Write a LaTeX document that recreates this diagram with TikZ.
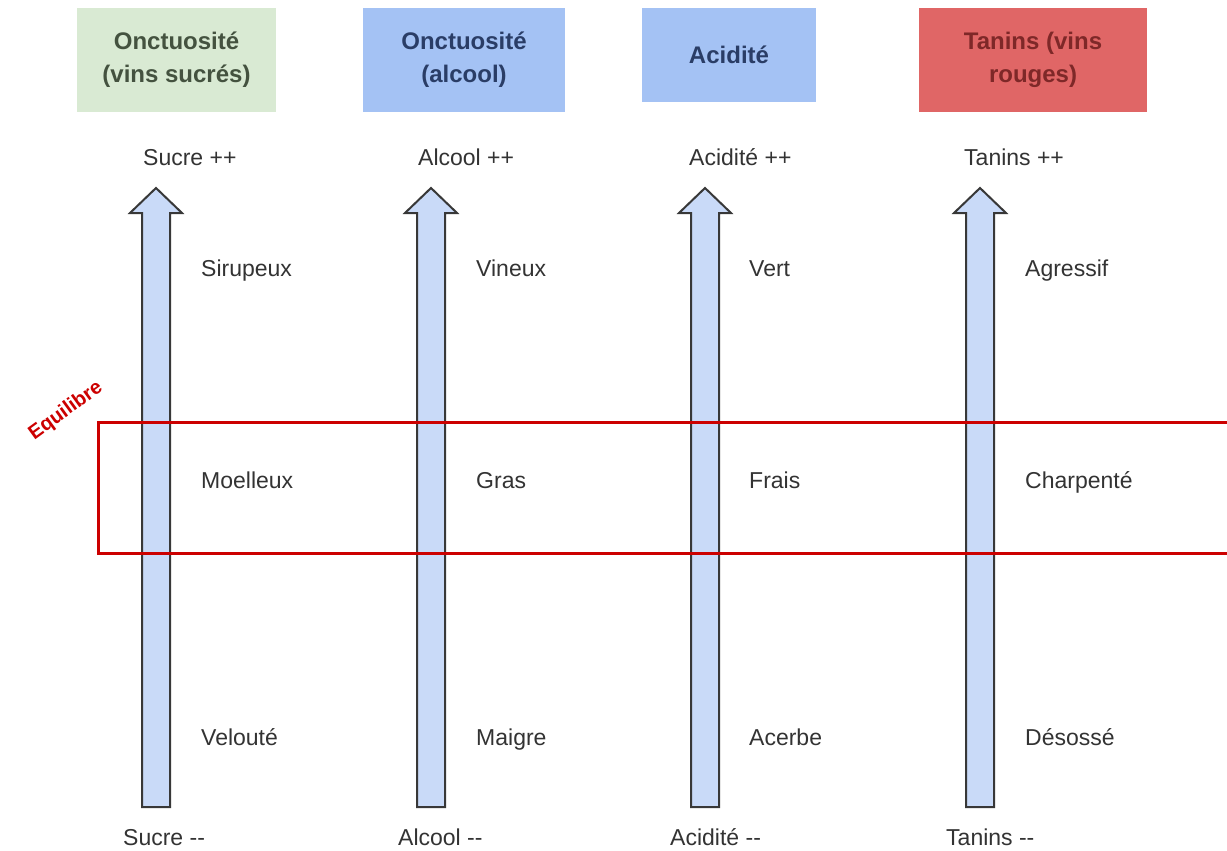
\documentclass[tikz,border=0pt]{standalone}
\usepackage{fontspec}
\setmainfont{Liberation Sans}
\definecolor{boxgreen}{HTML}{D9EAD3}
\definecolor{boxblue}{HTML}{A4C2F4}
\definecolor{boxred}{HTML}{E06666}
\definecolor{txtgreen}{HTML}{44523F}
\definecolor{txtblue}{HTML}{2A3D66}
\definecolor{txtred}{HTML}{7E2828}
\definecolor{labelgray}{HTML}{333333}
\definecolor{arrowfill}{HTML}{C9DAF8}
\definecolor{arrowline}{HTML}{383838}
\definecolor{eqred}{HTML}{CC0000}
\begin{document}
\begin{tikzpicture}[x=1pt,y=-1pt,
  lbl/.style={font=\fontsize{23}{27}\selectfont, text=labelgray, anchor=base west, inner sep=0pt},
  hdr/.style={font=\bfseries\fontsize{24}{33}\selectfont, align=center, inner sep=0pt},
  blockarrow/.style={draw=arrowline, fill=arrowfill, line width=2pt, line join=miter},
  balance/.style={draw=eqred, line width=3pt}]
\useasboundingbox (0,0) rectangle (1227,851);
\fill[white] (0,0) rectangle (1227,851);

% header boxes
\node[hdr, fill=boxgreen, text=txtgreen, minimum width=199pt, minimum height=104pt] (b1) at (176.5,60) {Onctuosité\\(vins sucrés)};
\node[hdr, fill=boxblue, text=txtblue, minimum width=202pt, minimum height=104pt] (b2) at (464,60) {Onctuosité\\(alcool)};
\node[hdr, fill=boxblue, text=txtblue, minimum width=174pt, minimum height=94pt] (b3) at (729,55) {Acidité};
\node[hdr, fill=boxred, text=txtred, minimum width=228pt, minimum height=104pt] (b4) at (1033,60) {Tanins (vins\\rouges)};

% block arrows
\foreach \cx in {156,431,705,980} {
  \draw[blockarrow] ({\cx-14},807) -- ({\cx-14},213) -- ({\cx-26},213) -- (\cx,188)
    -- ({\cx+26},213) -- ({\cx+14},213) -- ({\cx+14},807) -- cycle;
}

% top labels
\node[lbl] (t1) at (143,165) {Sucre ++};
\node[lbl] (t2) at (418,165) {Alcool ++};
\node[lbl] (t3) at (689,165) {Acidité ++};
\node[lbl] (t4) at (964,165) {Tanins ++};

% bottom labels
\node[lbl] (d1) at (123,845) {Sucre -{}-};
\node[lbl] (d2) at (398,845) {Alcool -{}-};
\node[lbl] (d3) at (670,845) {Acidité -{}-};
\node[lbl] (d4) at (946,845) {Tanins -{}-};

% upper descriptors
\node[lbl] (u1) at (201,276) {Sirupeux};
\node[lbl] (u2) at (476,276) {Vineux};
\node[lbl] (u3) at (749,276) {Vert};
\node[lbl] (u4) at (1025,276) {Agressif};

% middle descriptors
\node[lbl] (m1) at (201,488) {Moelleux};
\node[lbl] (m2) at (476,488) {Gras};
\node[lbl] (m3) at (749,488) {Frais};
\node[lbl] (m4) at (1025,488) {Charpenté};

% lower descriptors
\node[lbl] (l1) at (201,745) {Velouté};
\node[lbl] (l2) at (476,745) {Maigre};
\node[lbl] (l3) at (749,745) {Acerbe};
\node[lbl] (l4) at (1025,745) {Désossé};

% balance band
\draw[balance] (1240,422) -- (98,422) -- (98,553) -- (1240,553);
\node[rotate=36, text=eqred, font=\bfseries\fontsize{20}{24}\selectfont, inner sep=0pt] (eq) at (66,411) {Equilibre};
\end{tikzpicture}
\end{document}
